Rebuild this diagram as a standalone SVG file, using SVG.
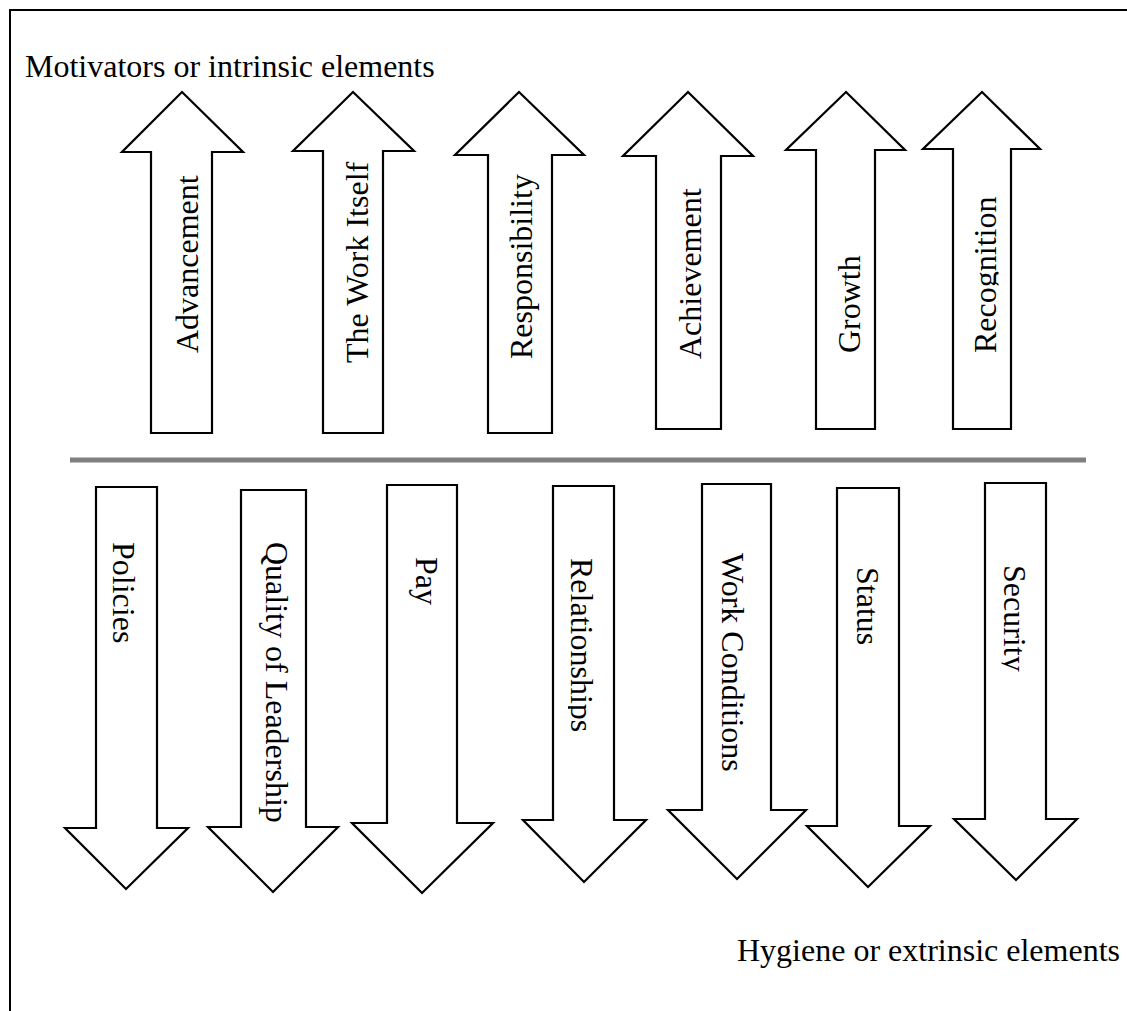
<svg xmlns="http://www.w3.org/2000/svg" width="1127" height="1011" viewBox="0 0 1127 1011">
<style>
.arrow{fill:#fff;stroke:#000;stroke-width:2.2;stroke-linejoin:miter}
.lbl{font-family:"Liberation Serif","Times New Roman",serif;font-size:32px;fill:#000}
</style>
<defs>
<clipPath id="clipDesc" clipPathUnits="userSpaceOnUse"><rect x="-10" y="-45" width="400" height="47.5"/></clipPath>
</defs>
<rect width="1127" height="1011" fill="#fff"/>
<path d="M10,1011 V10 H1127" fill="none" stroke="#000" stroke-width="2"/>
<text class="lbl" x="25" y="77">Motivators or intrinsic elements</text>
<text class="lbl" x="737" y="961">Hygiene or extrinsic elements</text>
<g id="divider"><line x1="70" y1="460" x2="1086" y2="460" stroke="#808080" stroke-width="5"/></g>
<g id="connectors"></g>
<g id="advancement"><polygon class="arrow" points="182,92 243,152 212,152 212,433 151,433 151,152 122,152"/><text class="lbl" transform="translate(197.5,353) rotate(-90)">Advancement</text></g>
<g id="work-itself"><polygon class="arrow" points="353,92 414,151 383,151 383,433 323,433 323,151 293,151"/><text class="lbl" transform="translate(367.5,363) rotate(-90)">The Work Itself</text></g>
<g id="responsibility"><polygon class="arrow" points="519,92 584,155 552,155 552,433 488,433 488,155 455,155"/><text class="lbl" transform="translate(531.5,359) rotate(-90)">Responsibility</text></g>
<g id="achievement"><polygon class="arrow" points="688,92 753,156 721,156 721,429 656,429 656,156 623,156"/><text class="lbl" transform="translate(701,359) rotate(-90)">Achievement</text></g>
<g id="growth"><polygon class="arrow" points="846,92 905,150 875,150 875,429 816,429 816,150 786,150"/><text class="lbl" transform="translate(860,353) rotate(-90)">Growth</text></g>
<g id="recognition"><polygon class="arrow" points="982,92 1040,149 1011,149 1011,429 953,429 953,149 923,149"/><text class="lbl" clip-path="url(#clipDesc)" transform="translate(996,353) rotate(-90)">Recognition</text></g>
<g id="policies"><polygon class="arrow" points="96,487 157,487 157,828 188,828 126,889 65,828 96,828"/><text class="lbl" transform="translate(112.5,542) rotate(90)">Policies</text></g>
<g id="quality-of-leadership"><polygon class="arrow" points="241,490 306,490 306,827 338,827 273,892 208,827 241,827"/><text class="lbl" transform="translate(265.5,542) rotate(90)">Quality of Leadership</text></g>
<g id="pay"><polygon class="arrow" points="387,485 457,485 457,823 493,823 422,893 352,823 387,823"/><text class="lbl" transform="translate(416,557) rotate(90)">Pay</text></g>
<g id="relationships"><polygon class="arrow" points="553,486 614,486 614,820 646,820 584,882 523,820 553,820"/><text class="lbl" clip-path="url(#clipDesc)" transform="translate(570.5,558) rotate(90)">Relationships</text></g>
<g id="work-conditions"><polygon class="arrow" points="702,484 771,484 771,810 806,810 737,879 668,810 702,810"/><text class="lbl" transform="translate(722,553) rotate(90)">Work Conditions</text></g>
<g id="status"><polygon class="arrow" points="837,488 899,488 899,826 930,826 868,887 807,826 837,826"/><text class="lbl" transform="translate(857,567) rotate(90)">Status</text></g>
<g id="security"><polygon class="arrow" points="985,483 1046,483 1046,819 1077,819 1016,880 954,819 985,819"/><text class="lbl" clip-path="url(#clipDesc)" transform="translate(1004,565) rotate(90)">Security</text></g>
</svg>
